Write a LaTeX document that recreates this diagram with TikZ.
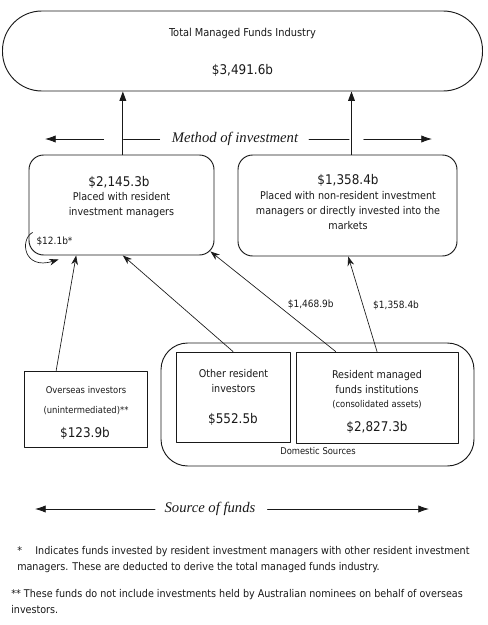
\documentclass[tikz,border=0pt]{standalone}
\usepackage{fontspec}
\setmainfont{DejaVu Sans Condensed}
\newfontfamily\captionfont{Liberation Serif}
\usetikzlibrary{arrows.meta, positioning, calc}
\definecolor{flowInk}{RGB}{25,25,25}
\tikzset{
    flow/.style={x=0.75pt, y=-0.75pt, line cap=round, line join=round},
    pill/.style={draw=flowInk, line width=0.7pt, rounded corners=29.5pt,
                 minimum width=360pt, minimum height=60pt},
    roundbox/.style={draw=flowInk, line width=0.7pt, rounded corners=11pt},
    sourcebox/.style={draw=flowInk, line width=0.7pt},
    groupbox/.style={draw=flowInk, line width=0.7pt, rounded corners=20pt},
    bodytext/.style={inner sep=0pt, align=center, text=flowInk,
                     font=\fontsize{8}{11.25}\selectfont},
    smalltext/.style={inner sep=0pt, align=center, text=flowInk,
                      font=\fontsize{7}{9}\selectfont},
    amount/.style={inner sep=0pt, text=flowInk,
                   font=\fontsize{10}{12}\selectfont},
    flowlabel/.style={inner sep=0pt, text=flowInk,
                      font=\fontsize{7.5}{9}\selectfont},
    axislabel/.style={inner sep=0pt, text=flowInk,
                      font=\captionfont\itshape\fontsize{11}{13}\selectfont},
    note/.style={inner sep=0pt, align=left, anchor=west, text=flowInk,
                 font=\fontsize{8}{12}\selectfont},
    uparrow/.style={-{Triangle[length=7pt, width=5pt]}, line width=0.7pt, draw=flowInk},
    feed/.style={-{Stealth[length=7pt, width=5pt]}, line width=0.5pt, draw=flowInk},
    axis/.style={-{Latex[length=8pt, width=5.5pt]}, line width=0.6pt, draw=flowInk},
    axisline/.style={line width=0.6pt, draw=flowInk},
}

\begin{document}
\begin{tikzpicture}[flow]
\useasboundingbox (0,0) rectangle (488,625);

% ─── Total du secteur ───────────────────────────────────────────────────
\node[pill] (total) at (242.5,51) {};
\node[bodytext, font=\fontsize{8.2}{10}\selectfont] (totaltitle) at (242.5,33) {Total Managed Funds Industry};
\node[amount] (totalamt) at (242.5,70) {\$3,491.6b};

% ─── Méthode d'investissement ───────────────────────────────────────────
\node[roundbox, minimum width=138.75pt, minimum height=75pt] (resbox) at (121.5,205) {};
\node[amount] (resamt) at (119,182) {\$2,145.3b};
\node[bodytext] (restxt) at (121.5,205.5) {Placed with resident\\investment managers};
\node[flowlabel] (selflabel) at (54.5,241) {\$12.1b*};

\node[roundbox, minimum width=164.25pt, minimum height=75.75pt] (nonresbox) at (347.5,205.5) {};
\node[amount] (nonresamt) at (348,180) {\$1,358.4b};
\node[bodytext] (nonrestxt) at (348,211)
    {Placed with non-resident investment\\managers or directly invested into the\\markets};

\node[axislabel] (method) at (235,139) {Method of investment};
\coordinate (methodL) at (45,139);
\coordinate (methodR) at (432,139);

% ─── Sources des fonds ──────────────────────────────────────────────────
\node[sourcebox, minimum width=92.25pt, minimum height=57pt] (overseas) at (85.5,409) {};
\node[smalltext] (overseastxt) at (86,390) {Overseas investors};
\node[smalltext] (overseasnote) at (86,411) {(unintermediated)**};
\node[amount] (overseasamt) at (85,433) {\$123.9b};

\node[groupbox, minimum width=234.75pt, minimum height=92.25pt] (domestic) at (317.5,404.5) {};
\node[smalltext] (domestictxt) at (318,451) {Domestic Sources};

\node[sourcebox, minimum width=85.5pt, minimum height=67.5pt] (other) at (233,397) {};
\node[bodytext] (othertxt) at (233.5,381.5) {Other resident\\investors};
\node[amount] (otheramt) at (233,419) {\$552.5b};

\node[sourcebox, minimum width=121.5pt, minimum height=68.25pt] (funds) at (377,397.5) {};
\node[bodytext] (fundstxt) at (377,382.5) {Resident managed\\funds institutions};
\node[smalltext] (fundsnote) at (377,405) {(consolidated assets)};
\node[amount] (fundsamt) at (377,427) {\$2,827.3b};

\node[axislabel] (source) at (210,509) {Source of funds};
\coordinate (sourceL) at (35,509);
\coordinate (sourceR) at (429,509);

% ─── Notes ──────────────────────────────────────────────────────────────
\node[note] (note1) at (17,559.5)
    {*\hspace{10pt}Indicates funds invested by resident investment managers with other resident investment\\
     managers. These are deducted to derive the total managed funds industry.};
\node[note] (note2) at (11,601.5)
    {** These funds do not include investments held by Australian nominees on behalf of overseas\\
     investors.};

% ─── Flèches ────────────────────────────────────────────────────────────
\draw[uparrow] ([xshift=1pt]resbox.north) -- ([xshift=1pt]resbox.north |- total.south);
\draw[uparrow] ([xshift=3pt]nonresbox.north) -- ([xshift=3pt]nonresbox.north |- total.south);

\draw[axis] ([xshift=-51pt]method.west) -- (methodL);
\draw[axisline] ([xshift=-36pt]method.west) -- ([xshift=-9pt]method.west);
\draw[axisline] ([xshift=8pt]method.east) -- ([xshift=38pt]method.east);
\draw[axis] ([xshift=49pt]method.east) -- (methodR);

\draw[axis] ([xshift=-7pt]source.west) -- (sourceL);
\draw[axis] ([xshift=9pt]source.east) -- (sourceR);

\draw[feed] ([shift={(4,-23)}]resbox.south west)
    .. controls ([shift={(-9,-16)}]resbox.south west) and ([shift={(-5,15)}]resbox.south west)
    .. ([shift={(30,4)}]resbox.south west);
\draw[feed] ([xshift=-22pt]overseas.north) -- ([xshift=-34pt]resbox.south);
\draw[feed] (other.north) -- ([xshift=1pt]resbox.south);
\draw[feed] ([xshift=-31pt]funds.north) -- node[flowlabel, pos=0.47, right=8pt] (midlabel) {\$1,468.9b}
    ([shift={(-4,-4)}]resbox.south east);
\draw[feed] (funds.north) -- node[flowlabel, pos=0.49, right=7.5pt] (nonreslabel) {\$1,358.4b}
    ([xshift=0.5pt]nonresbox.south);

\end{tikzpicture}
\end{document}
